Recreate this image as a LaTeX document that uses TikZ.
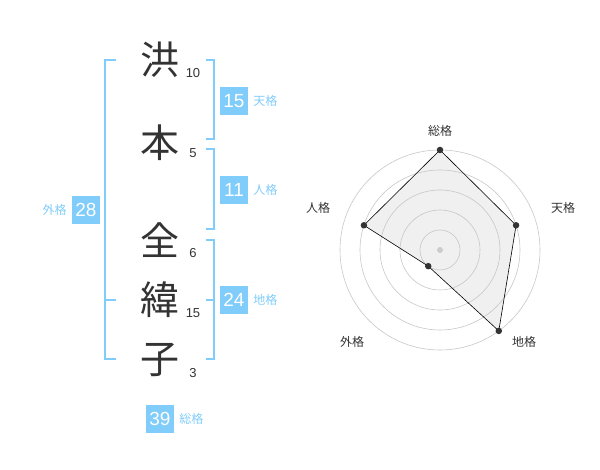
\documentclass[tikz,border=0pt]{standalone}
\usepackage{fontspec}
\setmainfont{Liberation Sans}
\newfontfamily\jp{Noto Sans CJK JP}
\usetikzlibrary{positioning}
\definecolor{kakublue}{RGB}{128,204,250}
\definecolor{ink}{RGB}{51,51,51}

\begin{document}
\begin{tikzpicture}[x=1pt,y=-1pt,node distance=5pt,
    kanji/.style={font=\jp\fontsize{39}{39}\selectfont,text=ink},
    strokes/.style={font=\fontsize{13}{13}\selectfont,text=ink},
    score/.style={fill=kakublue,text=white,minimum size=28pt,inner sep=0pt,font=\fontsize{19}{19}\selectfont},
    kaku/.style={text=kakublue,font=\jp\fontsize{12}{12}\selectfont,inner sep=0pt},
    bracket/.style={draw=kakublue,line width=1.6pt},
    ring/.style={draw=black!22,line width=0.6pt},
    axis/.style={font=\jp\fontsize{12}{12}\selectfont,text=ink},
    dot/.style={circle,fill=ink,inner sep=0pt,minimum size=6.5pt}]
  \useasboundingbox (0,0) rectangle (600,470);

  % name
  \node[kanji] (k1) at (160,60)  {洪};
  \node[kanji] (k2) at (160,143) {本};
  \node[kanji] (k3) at (160,240) {全};
  \node[kanji] (k4) at (160,300) {緯};
  \node[kanji] (k5) at (160,360) {子};
  \node[strokes] (n1) at (193,73)  {10};
  \node[strokes] (n2) at (193,153) {5};
  \node[strokes] (n3) at (193,253) {6};
  \node[strokes] (n4) at (193,313) {15};
  \node[strokes] (n5) at (193,373) {3};

  % brackets
  \draw[bracket] (116,60) -| (105,359) -- (116,359);
  \draw[bracket] (105,300) -- (116,300);
  \draw[bracket] (206,60) -| (214,139) -- (206,139);
  \draw[bracket] (206,149) -| (214,229) -- (206,229);
  \draw[bracket] (206,240) -| (214,359) -- (206,359);
  \draw[bracket] (206,300) -- (214,300);

  % scores
  \node[score] (ten)   at (234,101) {15};
  \node[kaku] [right=of ten] {天格};
  \node[score] (jin)   at (234,190) {11};
  \node[kaku] [right=of jin] {人格};
  \node[score] (chi)   at (234,300) {24};
  \node[kaku] [right=of chi] {地格};
  \node[score] (gai)   at (86,210)  {28};
  \node[kaku] [left=of gai] {外格};
  \node[score] (sou)   at (160,419) {39};
  \node[kaku] [right=of sou] {総格};

  % radar
  \begin{scope}[shift={(440,250)}]
    \coordinate (rsou) at (-90:100);
    \coordinate (rten) at (-18:80);
    \coordinate (rchi) at (54:100);
    \coordinate (rgai) at (126:20);
    \coordinate (rjin) at (198:80);
    \fill[black!6] (rsou) -- (rten) -- (rchi) -- (rgai) -- (rjin) -- cycle;
    \foreach \r in {20,40,60,80,100}
      \draw[ring] (0,0) circle (\r);
    \fill[black!20] (0,0) circle (3);
    \draw[line width=0.6pt] (rsou) -- (rten) -- (rchi) -- (rgai) -- (rjin) -- cycle;
    \foreach \p in {rsou,rten,rchi,rgai,rjin}
      \node[dot] at (\p) {};
    \node[axis] at (0,-119)    {総格};
    \node[axis] at (123,-42)   {天格};
    \node[axis] at (84,92)     {地格};
    \node[axis] at (-88,92)    {外格};
    \node[axis] at (-122,-42)  {人格};
  \end{scope}
\end{tikzpicture}
\end{document}
